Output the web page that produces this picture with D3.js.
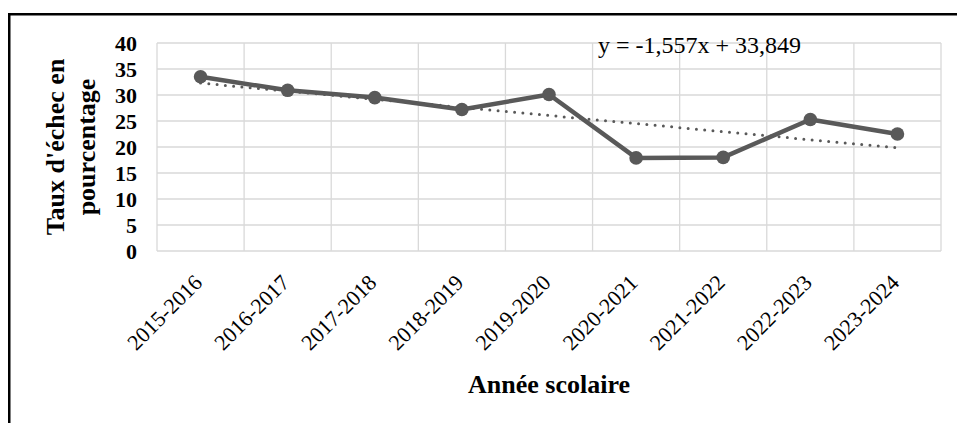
<!DOCTYPE html>
<html>
<head>
<meta charset="UTF-8">
<script src="https://d3js.org/d3.v7.min.js"></script>
<style>
    body { margin: 0; background: #fff; }
    svg { display: block; }
    svg text { font-family: 'Liberation Serif', 'Times New Roman', 'DejaVu Serif', serif; fill: #000; }
</style>
</head>
<body>
<svg id="main" width="957" height="423"></svg>
<script>
    // data
    var years = ['2015-2016', '2016-2017', '2017-2018', '2018-2019', '2019-2020',
                 '2020-2021', '2021-2022', '2022-2023', '2023-2024'];
    var taux = [33.5, 30.9, 29.5, 27.2, 30.1, 17.9, 18.0, 25.3, 22.5];
    var yTicks = [0, 5, 10, 15, 20, 25, 30, 35, 40];
    // trend line as printed on the chart
    var trendSlope = -1.557, trendIntercept = 33.849;
    var trendLabel = 'y = -1,557x + 33,849';

    var FONT = "'Liberation Serif', 'Times New Roman', serif";
    var svg = d3.select('#main');

    // outer frame (cut on right and bottom)
    svg.append('rect')
        .attr('x', 9.25).attr('y', 14.25)
        .attr('width', 1000).attr('height', 500)
        .attr('fill', 'none').attr('stroke', '#000').attr('stroke-width', 2.5);

    var pLeft = 157, pRight = 941, pTop = 43, pBottom = 251;

    var x = d3.scaleBand().domain(years).range([pLeft, pRight]);
    var y = d3.scaleLinear().domain([0, 40]).range([pBottom, pTop]);
    var cx = function(d){ return x(d) + x.bandwidth() / 2 };

    // grid
    var grid = svg.append('g').attr('stroke', '#d9d9d9').attr('stroke-width', 1.3);
    grid.selectAll('.h').data(yTicks).enter().append('line')
        .attr('x1', pLeft).attr('x2', pRight)
        .attr('y1', d => y(d)).attr('y2', d => y(d));
    grid.selectAll('.v').data(years.concat(['end'])).enter().append('line')
        .attr('x1', (d, i) => pLeft + i * x.bandwidth())
        .attr('x2', (d, i) => pLeft + i * x.bandwidth())
        .attr('y1', pTop).attr('y2', pBottom);

    // y axis labels
    var yAxis = d3.axisLeft(y).tickValues(yTicks).tickSize(0).tickPadding(0);
    var gy = svg.append('g').attr('transform', 'translate(137,0)').call(yAxis)
        .attr('font-family', FONT);
    gy.select('.domain').remove();
    gy.selectAll('text')
        .attr('font-size', 22).attr('font-weight', 'bold')
        .attr('fill', '#000').attr('dy', '0.35em');

    // x axis labels
    var xAxis = d3.axisBottom(x).tickSize(0).tickPadding(0);
    var gx = svg.append('g').attr('transform', 'translate(0,' + pBottom + ')').call(xAxis)
        .attr('font-family', FONT);
    gx.select('.domain').remove();
    gx.selectAll('text')
        .attr('font-size', 22).attr('fill', '#000')
        .attr('text-anchor', 'end')
        .attr('dy', 0).attr('y', 0).attr('x', 0)
        .attr('transform', 'translate(3,33) rotate(-45)');

    // trend line
    svg.append('line')
        .attr('x1', cx(years[0])).attr('y1', y(trendIntercept + trendSlope * 1))
        .attr('x2', cx(years[years.length - 1]))
        .attr('y2', y(trendIntercept + trendSlope * years.length))
        .attr('stroke', '#595959').attr('stroke-width', 3)
        .attr('stroke-linecap', 'round').attr('stroke-dasharray', '0 8.3');

    // series
    var line = d3.line().x((d, i) => cx(years[i])).y(d => y(d));
    svg.append('path')
        .datum(taux)
        .attr('d', line)
        .attr('fill', 'none').attr('stroke', '#595959')
        .attr('stroke-width', 4.5).attr('stroke-linejoin', 'round');
    svg.selectAll('.pt').data(taux).enter().append('circle')
        .attr('cx', (d, i) => cx(years[i])).attr('cy', d => y(d))
        .attr('r', 6.8).attr('fill', '#595959');

    // equation
    svg.append('text')
        .attr('x', 598).attr('y', 53)
        .attr('font-family', FONT).attr('font-size', 24)
        .text(trendLabel);

    // axis titles
    svg.append('text')
        .attr('x', 549).attr('y', 393)
        .attr('text-anchor', 'middle')
        .attr('font-family', FONT).attr('font-size', 26).attr('font-weight', 'bold')
        .text('Année scolaire');

    var yt = svg.append('text')
        .attr('transform', 'translate(64,147) rotate(-90)')
        .attr('text-anchor', 'middle')
        .attr('font-family', FONT).attr('font-size', 26).attr('font-weight', 'bold');
    yt.append('tspan').attr('x', 0).attr('y', 0).text("Taux d'échec en");
    yt.append('tspan').attr('x', 0).attr('y', 31).text('pourcentage');
</script>
</body>
</html>
